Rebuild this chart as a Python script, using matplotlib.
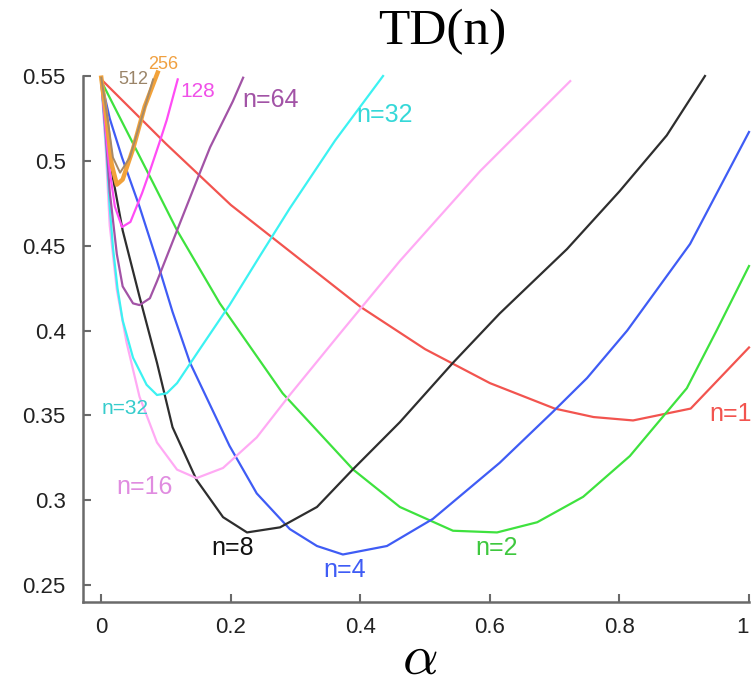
import matplotlib
matplotlib.use("Agg")
import matplotlib.pyplot as plt

plt.rcParams['font.family'] = ['Liberation Sans', 'DejaVu Sans']
plt.rcParams['mathtext.fontset'] = 'cm'

# ---- data (alpha, RMS error) ----
a_n1 = [0.0, 0.1, 0.2, 0.3, 0.4, 0.5, 0.6, 0.7, 0.76, 0.821, 0.91, 1.0]
e_n1 = [0.548, 0.510, 0.474, 0.444, 0.414, 0.389, 0.369, 0.354, 0.349, 0.347, 0.354, 0.390]

a_n2 = [0.0, 0.08, 0.117, 0.183, 0.280, 0.389, 0.461, 0.543, 0.611, 0.673, 0.744, 0.816, 0.904, 0.950, 1.0]
e_n2 = [0.547, 0.487, 0.459, 0.416, 0.363, 0.318, 0.296, 0.282, 0.281, 0.287, 0.302, 0.326, 0.366, 0.400, 0.438]

a_n4 = [0.0, 0.013, 0.032, 0.059, 0.086, 0.110, 0.137, 0.198, 0.240, 0.291, 0.333, 0.373,
        0.441, 0.512, 0.615, 0.697, 0.750, 0.812, 0.909, 1.0]
e_n4 = [0.547, 0.525, 0.502, 0.473, 0.441, 0.411, 0.381, 0.332, 0.304, 0.283, 0.273, 0.268,
        0.273, 0.289, 0.322, 0.352, 0.372, 0.400, 0.451, 0.517]

a_n8 = [0.0, 0.008, 0.018, 0.033, 0.059, 0.086, 0.110, 0.147, 0.188, 0.225, 0.276,
        0.333, 0.388, 0.461, 0.543, 0.615, 0.719, 0.800, 0.873, 0.932]
e_n8 = [0.547, 0.520, 0.490, 0.459, 0.420, 0.381, 0.343, 0.312, 0.290, 0.281, 0.284,
        0.296, 0.318, 0.346, 0.381, 0.410, 0.448, 0.482, 0.515, 0.550]

a_n16 = [0.0, 0.007, 0.013, 0.024, 0.039, 0.059, 0.086, 0.117, 0.147, 0.188, 0.240, 0.291,
         0.368, 0.461, 0.585, 0.724]
e_n16 = [0.547, 0.506, 0.462, 0.424, 0.393, 0.361, 0.334, 0.318, 0.313, 0.319, 0.337, 0.362,
         0.398, 0.441, 0.494, 0.547]

a_n32 = [0.0, 0.008, 0.013, 0.018, 0.025, 0.033, 0.049, 0.070, 0.086, 0.101, 0.117, 0.152,
         0.198, 0.245, 0.291, 0.361, 0.435]
e_n32 = [0.547, 0.506, 0.473, 0.449, 0.425, 0.406, 0.384, 0.368, 0.362, 0.363, 0.369, 0.389,
         0.415, 0.444, 0.472, 0.512, 0.550]

a_n64 = [0.0, 0.007, 0.013, 0.024, 0.033, 0.049, 0.059, 0.075, 0.086, 0.117, 0.147, 0.168, 0.203, 0.219]
e_n64 = [0.547, 0.515, 0.482, 0.445, 0.426, 0.416, 0.415, 0.419, 0.429, 0.459, 0.488, 0.508, 0.535, 0.549]

a_n128 = [0.0, 0.008, 0.013, 0.021, 0.032, 0.045, 0.063, 0.075, 0.090, 0.101, 0.118]
e_n128 = [0.547, 0.513, 0.494, 0.473, 0.461, 0.464, 0.481, 0.494, 0.511, 0.524, 0.548]

a_n256 = [0.0, 0.008, 0.016, 0.024, 0.033, 0.049, 0.067, 0.087]
e_n256 = [0.549, 0.525, 0.498, 0.486, 0.489, 0.507, 0.532, 0.552]

a_n512 = [0.0, 0.010, 0.018, 0.029, 0.044, 0.059, 0.080]
e_n512 = [0.549, 0.524, 0.502, 0.493, 0.502, 0.521, 0.548]

x_ticks = [0, 0.2, 0.4, 0.6, 0.8, 1]
x_tick_labels = ['0', '0.2', '0.4', '0.6', '0.8', '1']
y_ticks = [0.25, 0.3, 0.35, 0.4, 0.45, 0.5, 0.55]
y_tick_labels = ['0.25', '0.3', '0.35', '0.4', '0.45', '0.5', '0.55']

series = [
    (a_n1, e_n1, '#f2544f', 1.6),
    (a_n2, e_n2, '#3ee23e', 1.6),
    (a_n4, e_n4, '#3f5cf5', 1.6),
    (a_n8, e_n8, '#2e2e2e', 1.6),
    (a_n16, e_n16, '#ffaaf4', 1.6),
    (a_n32, e_n32, '#3cf2f2', 1.6),
    (a_n64, e_n64, '#a253a6', 1.6),
    (a_n128, e_n128, '#ff4cf5', 1.6),
    (a_n256, e_n256, '#f2a23a', 3.2),
    (a_n512, e_n512, '#a68a68', 1.4),
]

labels = [
    ('n=1', 1.005, 0.351, '#f2544f', 18, 'right'),
    ('n=2', 0.611, 0.272, '#3ec83e', 18, 'center'),
    ('n=4', 0.376, 0.259, '#3f5cf5', 18, 'center'),
    ('n=8', 0.203, 0.272, '#111111', 18, 'center'),
    ('n=16', 0.067, 0.308, '#e08ce0', 18, 'center'),
    ('n=32', 0.036, 0.354, '#35cccc', 15, 'center'),
    ('n=32', 0.438, 0.527, '#35d8d8', 18, 'center'),
    ('n=64', 0.262, 0.536, '#a253a6', 18, 'center'),
    ('128', 0.149, 0.541, '#f050e8', 15, 'center'),
    ('256', 0.095, 0.557, '#f0a040', 13, 'center'),
    ('512', 0.050, 0.548, '#9a8468', 13, 'center'),
]

fig = plt.figure(figsize=(7.53, 6.86), dpi=100)
ax = fig.add_axes([82.5 / 753, 1 - 602 / 686, (749 - 82.5) / 753, (602 - 76) / 686])

for a, e, c, lw in series:
    ax.plot(a, e, color=c, lw=lw, clip_on=False, solid_joinstyle='round')

for t, x, y, c, fs, ha in labels:
    ax.text(x, y, t, color=c, fontsize=fs, ha=ha, va='center')

ax.set_xlim(-0.029, 1.0)
ax.set_ylim(0.240, 0.55)
ax.set_xticks(x_ticks)
ax.set_xticklabels(x_tick_labels)
ax.set_yticks(y_ticks)
ax.set_yticklabels(y_tick_labels)
ax.get_xticklabels()[-1].set_horizontalalignment('right')
for s in ['top', 'right']:
    ax.spines[s].set_visible(False)
for s in ['left', 'bottom']:
    ax.spines[s].set_color('#6a6a6a')
    ax.spines[s].set_linewidth(1.8)
ax.tick_params(direction='in', length=6, width=1.5, color='#6a6a6a',
               labelsize=16, labelcolor='#222222')
ax.tick_params(axis='y', pad=12)
ax.tick_params(axis='x', pad=11)

fig.text(442 / 753, 1 - 32 / 686, 'TD(n)', fontsize=37, family='Liberation Serif',
         ha='center', va='center')
fig.text(420 / 753, 1 - 660 / 686, r'$\alpha$', fontsize=40, ha='center', va='center')

fig.savefig('out.png', dpi=100)
